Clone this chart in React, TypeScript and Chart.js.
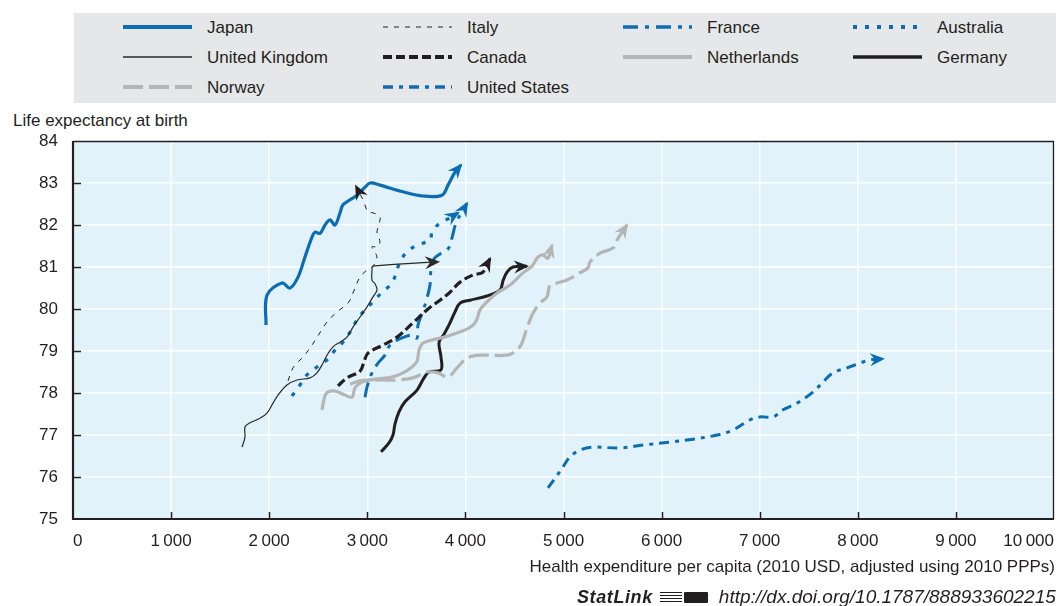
import React, { useEffect, useRef } from 'react';
import { Chart, registerables } from 'chart.js';

Chart.register(...registerables);

// ---- Data: [health expenditure per capita (2010 USD PPP), life expectancy at birth] ----
const JAPAN: [number, number][] = [
  [1967, 79.62], [1978, 80.33], [2130, 80.62], [2212, 80.5], [2294, 80.76], [2365, 81.24],
  [2436, 81.71], [2467, 81.83], [2518, 81.8], [2569, 82.0], [2620, 82.12], [2671, 82.0],
  [2722, 82.29], [2752, 82.48], [2824, 82.6], [2895, 82.71], [2977, 82.9], [3028, 83.0],
  [3129, 82.95], [3364, 82.79], [3568, 82.69], [3761, 82.71], [3823, 82.95], [3894, 83.26],
  [3955, 83.43],
];
const ITALY: [number, number][] = [
  [2192, 78.29], [2243, 78.6], [2345, 78.86], [2416, 79.07], [2497, 79.36], [2589, 79.69],
  [2691, 79.93], [2803, 80.14], [2854, 80.38], [2895, 80.62], [2926, 80.76], [2997, 80.93],
  [3058, 81.02], [3098, 81.24], [3048, 81.48], [3099, 81.48], [3129, 81.6], [3099, 81.81],
  [3109, 81.95], [3129, 82.19], [3058, 82.29], [3007, 82.31], [2956, 82.6], [2885, 82.92],
];
const UNITED_KINGDOM: [number, number][] = [
  [1723, 76.71], [1753, 76.95], [1753, 77.19], [1804, 77.29], [1906, 77.4], [1978, 77.52],
  [2039, 77.76], [2090, 77.95], [2181, 78.19], [2283, 78.31], [2416, 78.36], [2487, 78.48],
  [2548, 78.71], [2589, 78.9], [2650, 79.1], [2722, 79.21], [2793, 79.33], [2854, 79.57],
  [2926, 79.81], [2997, 80.05], [3058, 80.29], [3099, 80.45], [3079, 80.6], [3048, 80.69],
  [3048, 80.93], [3058, 81.02], [3721, 81.12],
];
const AUSTRALIA: [number, number][] = [
  [2232, 77.93], [2314, 78.19], [2385, 78.43], [2487, 78.62], [2589, 78.79], [2671, 79.02],
  [2752, 79.21], [2824, 79.45], [2895, 79.74], [2977, 79.98], [3058, 80.17], [3150, 80.4],
  [3252, 80.62], [3333, 81.12], [3405, 81.36], [3507, 81.52], [3639, 81.64], [3660, 81.83],
  [3741, 82.05], [3843, 82.17], [3925, 82.29],
];
const CANADA: [number, number][] = [
  [2701, 78.17], [2793, 78.36], [2926, 78.52], [2966, 78.74], [3007, 78.95], [3160, 79.14],
  [3303, 79.33], [3466, 79.67], [3619, 80.0], [3741, 80.21], [3843, 80.4], [3945, 80.64],
  [4077, 80.81], [4179, 80.88], [4251, 81.2],
];
const FRANCE: [number, number][] = [
  [2977, 77.9], [2997, 78.14], [3048, 78.48], [3109, 78.71], [3180, 78.9], [3231, 79.14],
  [3303, 79.26], [3374, 79.33], [3456, 79.38], [3507, 79.31], [3517, 79.62], [3558, 79.9],
  [3598, 80.17], [3639, 80.57], [3649, 80.93], [3680, 81.19], [3741, 81.31], [3823, 81.43],
  [3863, 81.69], [3904, 82.05], [3976, 82.36], [4016, 82.52],
];
const NETHERLANDS: [number, number][] = [
  [2538, 77.6], [2579, 77.98], [2661, 78.05], [2773, 77.95], [2844, 77.9], [2875, 78.12],
  [2946, 78.26], [3079, 78.33], [3252, 78.38], [3364, 78.48], [3446, 78.6], [3507, 78.76],
  [3527, 79.02], [3568, 79.19], [3660, 79.26], [3782, 79.33], [3914, 79.43], [4016, 79.52],
  [4088, 79.64], [4118, 79.76], [4149, 79.98], [4220, 80.17], [4322, 80.38], [4455, 80.57],
  [4587, 80.86], [4679, 81.02], [4740, 81.24], [4791, 81.29], [4842, 81.21], [4883, 81.52],
];
const GERMANY: [number, number][] = [
  [3140, 76.6], [3221, 76.81], [3262, 77.0], [3282, 77.26], [3323, 77.55], [3384, 77.79],
  [3507, 78.07], [3578, 78.36], [3629, 78.5], [3751, 78.55], [3751, 78.86], [3731, 79.21],
  [3782, 79.4], [3833, 79.62], [3894, 79.93], [3945, 80.14], [4047, 80.21], [4220, 80.31],
  [4353, 80.45], [4383, 80.67], [4424, 80.88], [4485, 81.0], [4628, 81.02],
];
const NORWAY: [number, number][] = [
  [2824, 78.21], [2926, 78.29], [3129, 78.31], [3303, 78.31], [3466, 78.36], [3609, 78.5],
  [3721, 78.48], [3823, 78.38], [3914, 78.6], [4016, 78.83], [4149, 78.9], [4424, 78.9],
  [4526, 79.02], [4577, 79.19], [4628, 79.55], [4689, 79.9], [4760, 80.14], [4832, 80.29],
  [4862, 80.57], [4934, 80.62], [5036, 80.69], [5168, 80.86], [5250, 80.98], [5270, 81.12],
  [5372, 81.33], [5505, 81.45], [5545, 81.64], [5647, 82.0],
];
const UNITED_STATES: [number, number][] = [
  [4842, 75.74], [4924, 76.0], [4995, 76.24], [5066, 76.48], [5168, 76.64], [5301, 76.71],
  [5576, 76.69], [5810, 76.76], [6086, 76.83], [6320, 76.9], [6565, 77.0], [6728, 77.12],
  [6901, 77.36], [7003, 77.43], [7136, 77.43], [7238, 77.6], [7380, 77.76], [7543, 78.02],
  [7645, 78.26], [7747, 78.48], [7890, 78.6], [8022, 78.71], [8124, 78.79], [8257, 78.81],
];

const X_MIN = 0;
const X_MAX = 10000;
const X_STEP = 1000;
const Y_MIN = 75;
const Y_MAX = 84;
const Y_STEP = 1;

const Y_TITLE = 'Life expectancy at birth';
const X_TITLE = 'Health expenditure per capita (2010 USD, adjusted using 2010 PPPs)';
const STATLINK_URL = 'http://dx.doi.org/10.1787/888933602215';

// ---- Styles ----
const BLUE = '#0b6db3';
const BLACK = '#231f20';
const GRAY = '#b5b5b5';
const FONT = "'Liberation Sans', Arial, Helvetica, sans-serif";
const TEXT = '#231f20';

type Series = {
  label: string;
  data: [number, number][];
  color: string;
  width: number;
  dash: number[];
};

const SERIES: Series[] = [
  { label: 'Netherlands', data: NETHERLANDS, color: GRAY, width: 3.2, dash: [] },
  { label: 'Norway', data: NORWAY, color: GRAY, width: 3.2, dash: [20, 6] },
  { label: 'Germany', data: GERMANY, color: BLACK, width: 3, dash: [] },
  { label: 'United Kingdom', data: UNITED_KINGDOM, color: '#2a2a2a', width: 1.2, dash: [] },
  { label: 'Italy', data: ITALY, color: BLACK, width: 1, dash: [5, 6] },
  { label: 'Canada', data: CANADA, color: BLACK, width: 3.2, dash: [9, 4] },
  { label: 'Australia', data: AUSTRALIA, color: BLUE, width: 3.2, dash: [4, 8] },
  { label: 'France', data: FRANCE, color: BLUE, width: 3, dash: [15, 7, 4, 7] },
  { label: 'United States', data: UNITED_STATES, color: BLUE, width: 3, dash: [10, 6, 4, 6] },
  { label: 'Japan', data: JAPAN, color: BLUE, width: 3.2, dash: [] },
];

const LEGEND_ORDER = [
  'Japan', 'Italy', 'France', 'Australia',
  'United Kingdom', 'Canada', 'Netherlands', 'Germany',
  'Norway', 'United States',
];

const fmt = (v: number) => String(v).replace(/\B(?=(\d{3})+(?!\d))/g, '\u2009');

const bgPlugin = {
  id: 'plotBg',
  beforeDraw(chart: any) {
    const { ctx, chartArea: a } = chart;
    ctx.save();
    ctx.fillStyle = '#e1f2fa';
    ctx.fillRect(a.left, a.top, a.right - a.left, a.bottom - a.top);
    ctx.restore();
  },
};

const framePlugin = {
  id: 'frame',
  afterDraw(chart: any) {
    const { ctx, chartArea: a, scales } = chart;
    ctx.save();
    ctx.strokeStyle = BLACK;
    // inward ticks
    ctx.lineWidth = 1.5;
    for (let v = Y_MIN + Y_STEP; v < Y_MAX; v += Y_STEP) {
      const y = Math.round(scales.y.getPixelForValue(v)) + 0.5;
      ctx.beginPath();
      ctx.moveTo(a.left, y);
      ctx.lineTo(a.left + 8, y);
      ctx.stroke();
    }
    for (let v = X_MIN + X_STEP; v < X_MAX; v += X_STEP) {
      const x = Math.round(scales.x.getPixelForValue(v)) + 0.5;
      ctx.beginPath();
      ctx.moveTo(x, a.bottom);
      ctx.lineTo(x, a.bottom - 7);
      ctx.stroke();
    }
    // top & right thin border
    ctx.lineWidth = 1.3;
    ctx.beginPath();
    ctx.moveTo(a.left, a.top + 0.5);
    ctx.lineTo(a.right - 0.5, a.top + 0.5);
    ctx.lineTo(a.right - 0.5, a.bottom);
    ctx.stroke();
    // left & bottom axis
    ctx.lineWidth = 2.2;
    ctx.beginPath();
    ctx.moveTo(a.left, a.top);
    ctx.lineTo(a.left, a.bottom);
    ctx.lineTo(a.right, a.bottom);
    ctx.stroke();
    ctx.restore();
  },
};

const arrowPlugin = {
  id: 'arrows',
  afterDatasetsDraw(chart: any) {
    const { ctx } = chart;
    chart.data.datasets.forEach((ds: any, i: number) => {
      const meta = chart.getDatasetMeta(i);
      const pts = meta.data;
      if (!pts || pts.length < 2) return;
      const end = pts[pts.length - 1];
      let k = pts.length - 2;
      let prev = pts[k];
      while (k > 0 && Math.hypot(end.x - prev.x, end.y - prev.y) < 8) {
        k -= 1;
        prev = pts[k];
      }
      const ang = Math.atan2(end.y - prev.y, end.x - prev.x);
      const L = 15;
      const W = 6.5;
      const N = 10;
      ctx.save();
      ctx.translate(end.x, end.y);
      ctx.rotate(ang);
      ctx.fillStyle = ds.borderColor;
      ctx.beginPath();
      ctx.moveTo(2, 0);
      ctx.lineTo(2 - L, -W);
      ctx.lineTo(2 - N, 0);
      ctx.lineTo(2 - L, W);
      ctx.closePath();
      ctx.fill();
      ctx.restore();
    });
  },
};

function LegendSample({ s }: { s: Series }) {
  return (
    <svg width={69} height={8} style={{ display: 'block' }}>
      <line
        x1={0}
        y1={4}
        x2={69}
        y2={4}
        stroke={s.color}
        strokeWidth={s.width + (s.width > 2 ? 0.6 : 0.2)}
        strokeDasharray={s.dash.length ? s.dash.join(' ') : undefined}
      />
    </svg>
  );
}

export default function App() {
  const ref = useRef<HTMLCanvasElement | null>(null);

  useEffect(() => {
    document.body.style.margin = '0';
    document.body.style.overflow = 'hidden';
    if (!ref.current) return;
    const tickFont = { family: FONT, size: 17 };
    const chart = new Chart(ref.current, {
      type: 'scatter',
      data: {
        datasets: SERIES.map((s) => ({
          label: s.label,
          data: s.data.map(([x, y]) => ({ x, y })),
          showLine: true,
          borderColor: s.color,
          backgroundColor: s.color,
          borderWidth: s.width,
          borderDash: s.dash,
          borderCapStyle: 'butt',
          borderJoinStyle: 'round',
          pointRadius: 0,
          pointHoverRadius: 0,
          tension: 0.35,
          fill: false,
        })),
      } as any,
      options: {
        responsive: false,
        animation: false,
        events: [],
        layout: { padding: { top: 141, right: 10, left: 0, bottom: 0 } },
        plugins: { legend: { display: false }, tooltip: { enabled: false } },
        scales: {
          x: {
            type: 'linear',
            min: X_MIN,
            max: X_MAX,
            ticks: {
              stepSize: X_STEP,
              autoSkip: false,
              maxRotation: 0,
              align: 'inner',
              padding: 12,
              color: TEXT,
              font: tickFont,
              callback: (v: any) => fmt(Number(v)),
            },
            grid: { color: '#ffffff', lineWidth: 1.5, drawTicks: false },
            border: { display: false },
            afterFit: (s: any) => {
              s.height = 87;
              s.paddingLeft = 0;
              s.paddingRight = 0;
            },
          },
          y: {
            type: 'linear',
            min: Y_MIN,
            max: Y_MAX,
            ticks: {
              stepSize: Y_STEP,
              autoSkip: false,
              padding: 15,
              color: TEXT,
              font: tickFont,
            },
            grid: { color: '#ffffff', lineWidth: 1.5, drawTicks: false },
            border: { display: false },
            afterFit: (s: any) => {
              s.width = 73;
              s.paddingTop = 0;
              s.paddingBottom = 0;
            },
          },
        },
      } as any,
      plugins: [bgPlugin, framePlugin, arrowPlugin],
    });
    return () => chart.destroy();
  }, []);

  const cols = [123, 383, 623, 853];
  const rows = [27, 57, 87];

  return (
    <div
      style={{
        position: 'relative',
        width: 1064,
        height: 606,
        overflow: 'hidden',
        background: '#ffffff',
        fontFamily: FONT,
        color: TEXT,
      }}
    >
      <div
        style={{
          position: 'absolute',
          left: 74,
          top: 13,
          width: 982,
          height: 90,
          background: '#e6e7e8',
        }}
      />
      {LEGEND_ORDER.map((name, i) => {
        const s = SERIES.find((d) => d.label === name)!;
        const cx = cols[i % 4];
        const cy = rows[Math.floor(i / 4)];
        return (
          <div key={name}>
            <div style={{ position: 'absolute', left: cx, top: cy - 4 }}>
              <LegendSample s={s} />
            </div>
            <div
              style={{
                position: 'absolute',
                left: cx + 84,
                top: cy - 9,
                fontSize: 17,
                lineHeight: '20px',
                whiteSpace: 'nowrap',
              }}
            >
              {name}
            </div>
          </div>
        );
      })}
      <div
        style={{
          position: 'absolute',
          left: 13,
          top: 111,
          fontSize: 17,
          lineHeight: '20px',
          whiteSpace: 'nowrap',
        }}
      >
        {Y_TITLE}
      </div>
      <canvas
        ref={ref}
        width={1064}
        height={606}
        style={{ position: 'absolute', left: 0, top: 0, width: 1064, height: 606 }}
      />
      <div
        style={{
          position: 'absolute',
          right: 9,
          top: 557,
          fontSize: 17,
          lineHeight: '20px',
          whiteSpace: 'nowrap',
        }}
      >
        {X_TITLE}
      </div>
      <div
        style={{
          position: 'absolute',
          left: 577,
          top: 586,
          height: 22,
          display: 'flex',
          alignItems: 'center',
          whiteSpace: 'nowrap',
        }}
      >
        <span style={{ fontWeight: 'bold', fontStyle: 'italic', fontSize: 18, letterSpacing: 0.6 }}>
          StatLink
        </span>
        <span
          style={{
            display: 'inline-flex',
            alignItems: 'center',
            marginLeft: 7,
            marginRight: 11,
            gap: 2,
          }}
        >
          <span
            style={{
              display: 'inline-block',
              width: 22,
              height: 10,
              background:
                'repeating-linear-gradient(to bottom, #231f20 0px, #231f20 1px, transparent 1px, transparent 3px)',
            }}
          />
          <span
            style={{
              display: 'inline-block',
              width: 24,
              height: 11,
              background: '#231f20',
              borderRadius: 1,
            }}
          />
        </span>
        <span style={{ fontStyle: 'italic', fontSize: 19 }}>{STATLINK_URL}</span>
      </div>
    </div>
  );
}
